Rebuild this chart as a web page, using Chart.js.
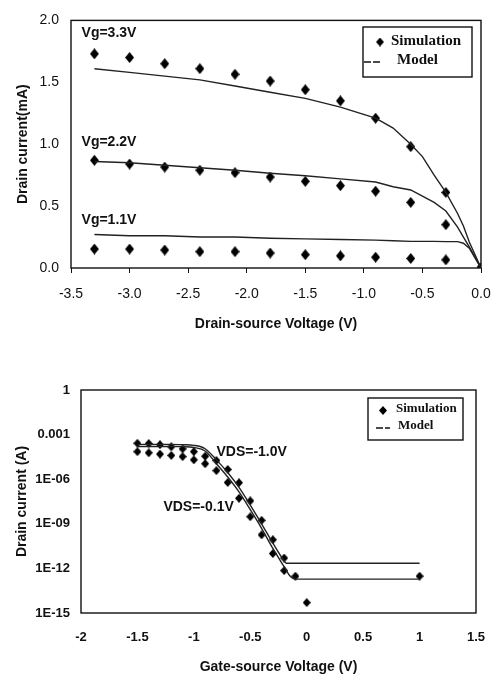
<!DOCTYPE html>
<html>
<head>
<meta charset="utf-8">
<script src="https://cdn.jsdelivr.net/npm/chart.js@4.4.1/dist/chart.umd.min.js"></script>
<style>
html,body{margin:0;padding:0;background:#fff;}
#wrap{position:relative;width:493px;height:677px;}
.box{position:absolute;left:0;width:493px;}
</style>
</head>
<body>
<div id="wrap">
<div class="box" style="top:0;height:340px"><canvas id="idvd"></canvas></div>
<div class="box" style="top:340px;height:337px"><canvas id="idvg"></canvas></div>
</div>
<script>
// ---- Id-Vd (top) ----
const vdSim = [-3.3,-3.0,-2.7,-2.4,-2.1,-1.8,-1.5,-1.2,-0.9,-0.6,-0.3,0];
const sim33 = [1.73,1.70,1.65,1.61,1.565,1.51,1.44,1.35,1.21,0.98,0.61,0];
const sim22 = [0.87,0.84,0.815,0.79,0.77,0.735,0.70,0.665,0.62,0.53,0.35,0];
const sim11 = [0.153,0.153,0.145,0.132,0.132,0.121,0.108,0.098,0.087,0.077,0.066,0];

const vdModel = [-3.3,-3.0,-2.7,-2.4,-2.1,-1.8,-1.5,-1.2,-0.9,-0.75,-0.6,-0.5,-0.4,-0.3,-0.2,-0.15,-0.1,0];
const mod33 = [1.61,1.58,1.55,1.52,1.47,1.42,1.37,1.30,1.21,1.13,1.00,0.90,0.75,0.61,0.44,0.34,0.21,0];
const mod22 = [0.86,0.85,0.83,0.81,0.79,0.765,0.745,0.72,0.695,0.656,0.63,0.58,0.53,0.46,0.33,0.25,0.17,0];
const mod11 = [0.27,0.26,0.26,0.25,0.25,0.24,0.235,0.23,0.225,0.22,0.215,0.215,0.215,0.213,0.213,0.2,0.16,0];

const vdTicks = [-3.5,-3.0,-2.5,-2.0,-1.5,-1.0,-0.5,0];
const idTicks = [0,0.5,1.0,1.5,2.0];
const vgNames = ['Vg=3.3V','Vg=2.2V','Vg=1.1V'];

// ---- Id-Vg (bottom), log current ----
const vgSim10 = [-1.5,-1.4,-1.3,-1.2,-1.1,-1.0,-0.9,-0.8,-0.7,-0.6,-0.5,-0.4,-0.3,-0.2];
const simVds10 = [2.6e-4,2.5e-4,2.1e-4,1.5e-4,1.1e-4,7.1e-5,3.5e-5,1.8e-5,4.5e-6,5.8e-7,3.5e-8,1.7e-9,8.5e-11,5.0e-12];
const vgSim01 = [-1.5,-1.4,-1.3,-1.2,-1.1,-1.0,-0.9,-0.8,-0.7,-0.6,-0.5,-0.4,-0.3,-0.2,-0.1,0,1.0];
const simVds01 = [7.1e-5,6.0e-5,4.9e-5,4.0e-5,3.3e-5,2.0e-5,1.1e-5,3.8e-6,6.0e-7,5.2e-8,3.0e-9,1.8e-10,1.0e-11,7.1e-13,3.0e-13,5.0e-15,3.0e-13];

const vgMod10 = [-1.5,-1.4,-1.3,-1.2,-1.1,-1.0,-0.9,-0.8,-0.7,-0.6,-0.5,-0.4,-0.3,-0.2,-0.18,1.0];
const modVds10 = [2.2e-4,2.2e-4,2.2e-4,2.2e-4,2.1e-4,1.9e-4,1.12e-4,2.0e-5,2.8e-6,2.8e-7,1.8e-8,1.0e-9,5.0e-11,3.2e-12,2.2e-12,2.2e-12];
const vgMod01 = [-1.5,-1.4,-1.3,-1.2,-1.1,-1.0,-0.9,-0.8,-0.7,-0.6,-0.5,-0.4,-0.3,-0.2,-0.15,-0.1,1.0];
const modVds01 = [1.6e-4,1.6e-4,1.6e-4,1.6e-4,1.55e-4,1.35e-4,7.9e-5,1.1e-5,1.4e-6,1.4e-7,8.9e-9,5.0e-10,2.2e-11,1.3e-12,3.2e-13,1.9e-13,1.9e-13];

const vgsTicks = [-2,-1.5,-1,-0.5,0,0.5,1,1.5];
const logTicks = [1e-15,1e-12,1e-9,1e-6,1e-3,1];
const logTickLabels = ['1E-15','1E-12','1E-09','1E-06','0.001','1'];
const vdsNames = ['VDS=-1.0V','VDS=-0.1V'];

const legendNames = ['Simulation','Model'];

const SANS = '"Liberation Sans", Arial, sans-serif';
const SERIF = '"Liberation Serif", "Times New Roman", serif';
const INK = '#111';

const pts = (xs, ys) => xs.map((x,i) => ({x:x, y:ys[i]}));

// tall diamond marker, like the original
function diamond(w, h){
  const c = document.createElement('canvas');
  c.width = w; c.height = h;
  const g = c.getContext('2d');
  g.beginPath();
  g.moveTo(w/2, 0); g.lineTo(w, h/2); g.lineTo(w/2, h); g.lineTo(0, h/2);
  g.closePath();
  g.fillStyle = '#000';
  g.fill();
  return c;
}
const bigDiamond = diamond(9, 11);
const smallDiamond = diamond(8, 9);

function simSet(xs, ys, mark){
  return {data:pts(xs,ys), showLine:false, pointStyle:mark, pointRadius:5};
}
function modelSet(xs, ys, smooth){
  return {data:pts(xs,ys), showLine:true, pointRadius:0, borderColor:'#222',
    borderWidth:1.4, tension:0, cubicInterpolationMode:smooth ? 'monotone' : 'default'};
}

// x axis: fixed height, no extra side padding for end labels
const fitX = h => s => { s.height = h; s.paddingLeft = 0; s.paddingRight = 0; };

// frame, curve labels and legend box
const decor = {
  id:'decor',
  afterDraw(chart, args, o){
    const {ctx, chartArea:a, scales:{x, y}} = chart;
    ctx.save();
    ctx.strokeStyle = INK;
    ctx.lineWidth = 1.4;
    ctx.strokeRect(a.left, a.top, a.right-a.left, a.bottom-a.top);

    ctx.fillStyle = INK;
    ctx.font = 'bold 14px ' + SANS;
    ctx.textAlign = 'left';
    ctx.textBaseline = 'middle';
    o.notes.forEach(n => ctx.fillText(n.text, x.getPixelForValue(n.x), y.getPixelForValue(n.y)));

    const L = o.legend;
    ctx.lineWidth = 1.4;
    ctx.strokeRect(L.left, L.top, L.w, L.h);
    ctx.drawImage(L.mark, L.mx - L.mark.width/2, L.my - L.mark.height/2);
    // dashed model line
    ctx.setLineDash([7,2]);
    ctx.lineWidth = 1.6;
    ctx.beginPath();
    ctx.moveTo(L.lx0, L.ly);
    ctx.lineTo(L.lx1, L.ly);
    ctx.stroke();
    ctx.setLineDash([]);
    ctx.fillStyle = INK;
    ctx.font = 'bold ' + L.fs + 'px ' + SERIF;
    ctx.fillText(legendNames[0], L.t1x, L.t1y);
    ctx.fillText(legendNames[1], L.t2x, L.t2y);
    ctx.restore();
  }
};

// ---- top chart ----
new Chart(document.getElementById('idvd'), {
  type:'scatter',
  data:{datasets:[
    modelSet(vdModel, mod33), modelSet(vdModel, mod22), modelSet(vdModel, mod11),
    simSet(vdSim, sim33, bigDiamond), simSet(vdSim, sim22, bigDiamond), simSet(vdSim, sim11, bigDiamond)
  ]},
  options:{
    responsive:true, maintainAspectRatio:false, animation:false,
    layout:{padding:{top:15, right:12, left:0, bottom:0}},
    plugins:{
      legend:{display:false}, tooltip:{enabled:false},
      decor:{
        notes:[
          {text:vgNames[0], x:-3.41, y:1.90},
          {text:vgNames[1], x:-3.41, y:1.02},
          {text:vgNames[2], x:-3.41, y:0.39}
        ],
        legend:{left:363, top:27, w:109, h:50, mx:380, my:42, mark:smallDiamond, fs:15,
          t1x:391, t1y:41, lx0:364, lx1:381, ly:62, t2x:397, t2y:60}
      }
    },
    scales:{
      x:{
        type:'linear', min:-3.5, max:0,
        afterBuildTicks:s => { s.ticks = vdTicks.map(v => ({value:v})); },
        afterFit:fitX(72),
        grid:{drawOnChartArea:false, drawTicks:true, tickLength:5, color:INK, lineWidth:1},
        border:{display:false},
        ticks:{padding:13, color:INK, font:{family:SANS, size:14}, maxRotation:0,
          callback:v => Number(v).toFixed(1)},
        title:{display:true, text:'Drain-source Voltage (V)', color:INK,
          font:{family:SANS, size:14, weight:'bold'}, padding:{top:0, bottom:7}}
      },
      y:{
        type:'linear', min:0, max:2,
        afterBuildTicks:s => { s.ticks = idTicks.map(v => ({value:v})); },
        afterFit:s => { s.width = 71; },
        grid:{display:false, drawTicks:false, tickLength:0},
        border:{display:false},
        ticks:{padding:12, color:INK, font:{family:SANS, size:14},
          callback:v => Number(v).toFixed(1)},
        title:{display:true, text:'Drain current(mA)', color:INK,
          font:{family:SANS, size:14, weight:'bold'}, padding:{top:15, bottom:0}}
      }
    }
  },
  plugins:[decor]
});

// ---- bottom chart ----
new Chart(document.getElementById('idvg'), {
  type:'scatter',
  data:{datasets:[
    modelSet(vgMod10, modVds10, true), modelSet(vgMod01, modVds01, true),
    simSet(vgSim10, simVds10, smallDiamond), simSet(vgSim01, simVds01, smallDiamond)
  ]},
  options:{
    responsive:true, maintainAspectRatio:false, animation:false,
    layout:{padding:{top:50, right:17, left:0, bottom:0}},
    plugins:{
      legend:{display:false}, tooltip:{enabled:false},
      decor:{
        notes:[
          {text:vdsNames[0], x:-0.80, y:7e-5},
          {text:vdsNames[1], x:-1.27, y:1.4e-8}
        ],
        legend:{left:368, top:58, w:95, h:42, mx:383, my:70.5, mark:smallDiamond, fs:13,
          t1x:396, t1y:69, lx0:376, lx1:390, ly:88, t2x:398, t2y:86}
      }
    },
    scales:{
      x:{
        type:'linear', min:-2, max:1.5,
        afterBuildTicks:s => { s.ticks = vgsTicks.map(v => ({value:v})); },
        afterFit:fitX(64),
        grid:{display:false, drawTicks:false, tickLength:0},
        border:{display:false},
        ticks:{padding:17, color:INK, font:{family:SANS, size:13, weight:'bold'}, maxRotation:0,
          callback:v => String(v)},
        title:{display:true, text:'Gate-source Voltage (V)', color:INK,
          font:{family:SANS, size:14, weight:'bold'}, padding:{top:0, bottom:1}}
      },
      y:{
        type:'logarithmic', min:1e-15, max:1,
        afterBuildTicks:s => { s.ticks = logTicks.map(v => ({value:v})); },
        afterFit:s => { s.width = 81; },
        grid:{display:false, drawTicks:false, tickLength:0},
        border:{display:false},
        ticks:{padding:11, color:INK, font:{family:SANS, size:13, weight:'bold'},
          callback:v => logTickLabels[logTicks.indexOf(v)] ?? ''},
        title:{display:true, text:'Drain current (A)', color:INK,
          font:{family:SANS, size:14, weight:'bold'}, padding:{top:14, bottom:0}}
      }
    }
  },
  plugins:[decor]
});
</script>
</body>
</html>
